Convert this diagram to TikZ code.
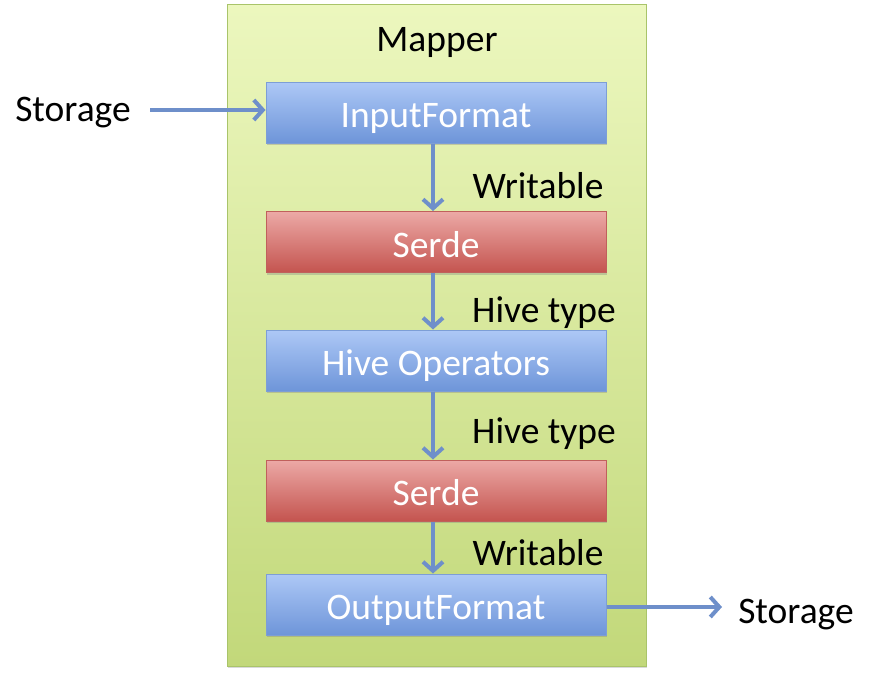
\documentclass[tikz,border=0pt]{standalone}
\usepackage{fontspec}
\setmainfont{Carlito}
\usetikzlibrary{arrows.meta,shadows}
\definecolor{grnT}{HTML}{ECF7BE}
\definecolor{grnB}{HTML}{C2D87A}
\definecolor{grnD}{HTML}{A9C46A}
\definecolor{bluT}{HTML}{ADC8F6}
\definecolor{bluB}{HTML}{6E95D9}
\definecolor{bluD}{HTML}{7D9ED6}
\definecolor{redT}{HTML}{ECA9A6}
\definecolor{redB}{HTML}{C4544F}
\definecolor{redD}{HTML}{C0605C}
\definecolor{arr}{HTML}{6E8FCA}
\tikzset{
  x=1pt,y=-1pt,
  txt/.style={font=\fontsize{37.5}{40}\selectfont, text=black, inner sep=0pt},
  bluebox/.style={draw=bluD, line width=1pt, top color=bluT, bottom color=bluB,
    minimum width=340pt, minimum height=61pt, inner sep=0pt, text=white,
    text height=30pt, text depth=0pt,
    font=\fontsize{37.5}{40}\selectfont, drop shadow={shadow xshift=1pt,shadow yshift=-2pt,opacity=0.35}},
  redbox/.style={bluebox, draw=redD, top color=redT, bottom color=redB},
  conn/.style={draw=arr, line width=4pt, -{Straight Barb[length=9pt,width=20pt,line width=4pt]}},
}
\begin{document}
\begin{tikzpicture}
\useasboundingbox (0,0) rectangle (872,677);
\node[draw=grnD, line width=1pt, top color=grnT, bottom color=grnB,
  minimum width=419pt, minimum height=661pt, inner sep=0pt,
  drop shadow={shadow xshift=1pt,shadow yshift=-2pt,opacity=0.3}] (mapper) at (436.5,335.5) {};
\node[txt] (mlabel) at (437,42) {Mapper};
\node[bluebox] (inp) at (436,112.5) {InputFormat};
\node[redbox] (serde1) at (436,242) {Serde};
\node[bluebox] (ops) at (436,360.5) {Hive Operators};
\node[redbox] (serde2) at (436,490.5) {Serde};
\node[bluebox] (outp) at (436,604.5) {OutputFormat};
\node[txt] (stin) at (73,113) {Storage};
\node[txt] (stout) at (796,615) {Storage};
\node[txt] (l1) at (538,186) {Writable};
\node[txt] (l2) at (544,313) {Hive type};
\node[txt] (l3) at (544,434) {Hive type};
\node[txt] (l4) at (538,553) {Writable};
\coordinate (a0) at (150,110);
\draw[conn] (a0) -- (inp.west |- a0);
\draw[conn] ([xshift=-3pt]inp.south) -- ([xshift=-3pt]serde1.north);
\draw[conn] ([xshift=-3pt]serde1.south) -- ([xshift=-3pt]ops.north);
\draw[conn] ([xshift=-3pt]ops.south) -- ([xshift=-3pt]serde2.north);
\draw[conn] ([xshift=-3pt]serde2.south) -- ([xshift=-3pt]outp.north);
\coordinate (a1) at (722,607);
\draw[conn] (outp.east |- a1) -- (a1);
\end{tikzpicture}
\end{document}
